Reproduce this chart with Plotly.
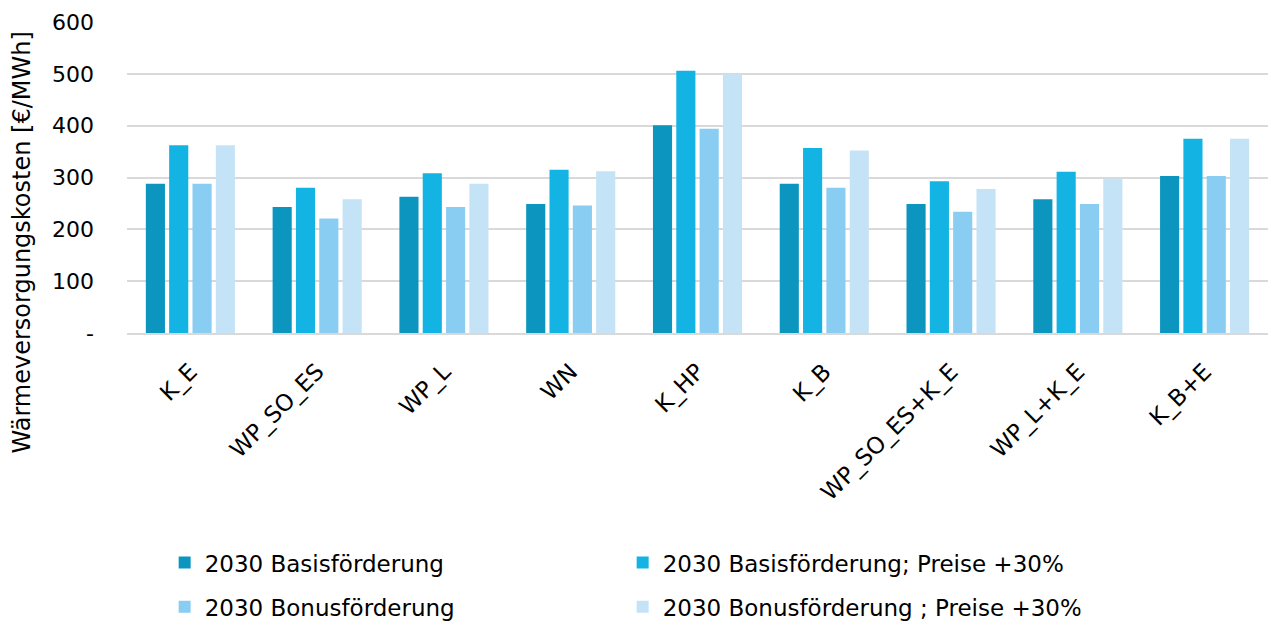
import plotly.graph_objects as go

categories = ["K_E", "WP_SO_ES", "WP_L", "WN", "K_HP", "K_B",
              "WP_SO_ES+K_E", "WP_L+K_E", "K_B+E"]

basis_2030 = [288, 243, 263, 249, 401, 288, 249, 258, 303]
basis_2030_plus30 = [362, 280, 308, 315, 506, 357, 293, 311, 375]
bonus_2030 = [288, 221, 243, 246, 394, 280, 234, 249, 303]
bonus_2030_plus30 = [362, 258, 288, 312, 499, 352, 278, 298, 375]

series_names = [
    "2030 Basisförderung",
    "2030 Basisförderung; Preise +30%",
    "2030 Bonusförderung",
    "2030 Bonusförderung ; Preise +30%",
]
series_values = [basis_2030, basis_2030_plus30, bonus_2030, bonus_2030_plus30]
series_colors = ["#0C96BF", "#13B4E3", "#89CDF2", "#C5E3F6"]
series_legend = ["legend", "legend", "legend2", "legend2"]

y_tick_values = [0, 100, 200, 300, 400, 500, 600]
y_tick_labels = ["-", "100", "200", "300", "400", "500", "600"]

FONT = "DejaVu Sans, Liberation Sans, Arial, sans-serif"

fig = go.Figure()
for name, vals, color, leg in zip(series_names, series_values, series_colors, series_legend):
    fig.add_trace(go.Bar(
        x=categories, y=vals, name=name, legend=leg,
        marker=dict(color=color, line=dict(width=0)),
    ))

legend_style = dict(
    orientation="h", x=0.033, xanchor="left", yanchor="middle",
    yref="container",
    entrywidth=413, entrywidthmode="pixels", itemwidth=30,
    font=dict(family=FONT, size=23, color="#000000"),
    bgcolor="rgba(0,0,0,0)", traceorder="normal",
)

fig.update_layout(
    width=1269, height=621,
    margin=dict(l=127, r=1, t=22, b=288, autoexpand=False),
    paper_bgcolor="white", plot_bgcolor="white",
    font=dict(family=FONT, size=23, color="#000000"),
    barmode="group", bargap=0.264, bargroupgap=0.18,
    showlegend=True,
    legend=dict(legend_style, y=0.094),
    legend2=dict(legend_style, y=0.023),
    xaxis=dict(
        tickangle=-45, showgrid=False, showline=True, linecolor="#D9D9D9",
        linewidth=2, ticks="", ticklabelstandoff=14, automargin=False,
        tickfont=dict(family=FONT, size=23, color="#000000"),
    ),
    yaxis=dict(
        range=[0, 600], tickvals=y_tick_values, ticktext=y_tick_labels,
        showgrid=True, gridcolor="#D9D9D9", gridwidth=2,
        zeroline=False, showline=False, ticks="", automargin=False,
        ticklabelstandoff=32, tickfont=dict(family=FONT, size=22, color="#000000"),
    ),
    annotations=[dict(
        text="Wärmeversorgungskosten [€/MWh]", textangle=-90,
        xref="paper", yref="paper", x=-0.092, y=0.291,
        xanchor="center", yanchor="middle", showarrow=False,
        font=dict(family=FONT, size=24, color="#000000"),
    )],
)

fig.write_html("out.html")
